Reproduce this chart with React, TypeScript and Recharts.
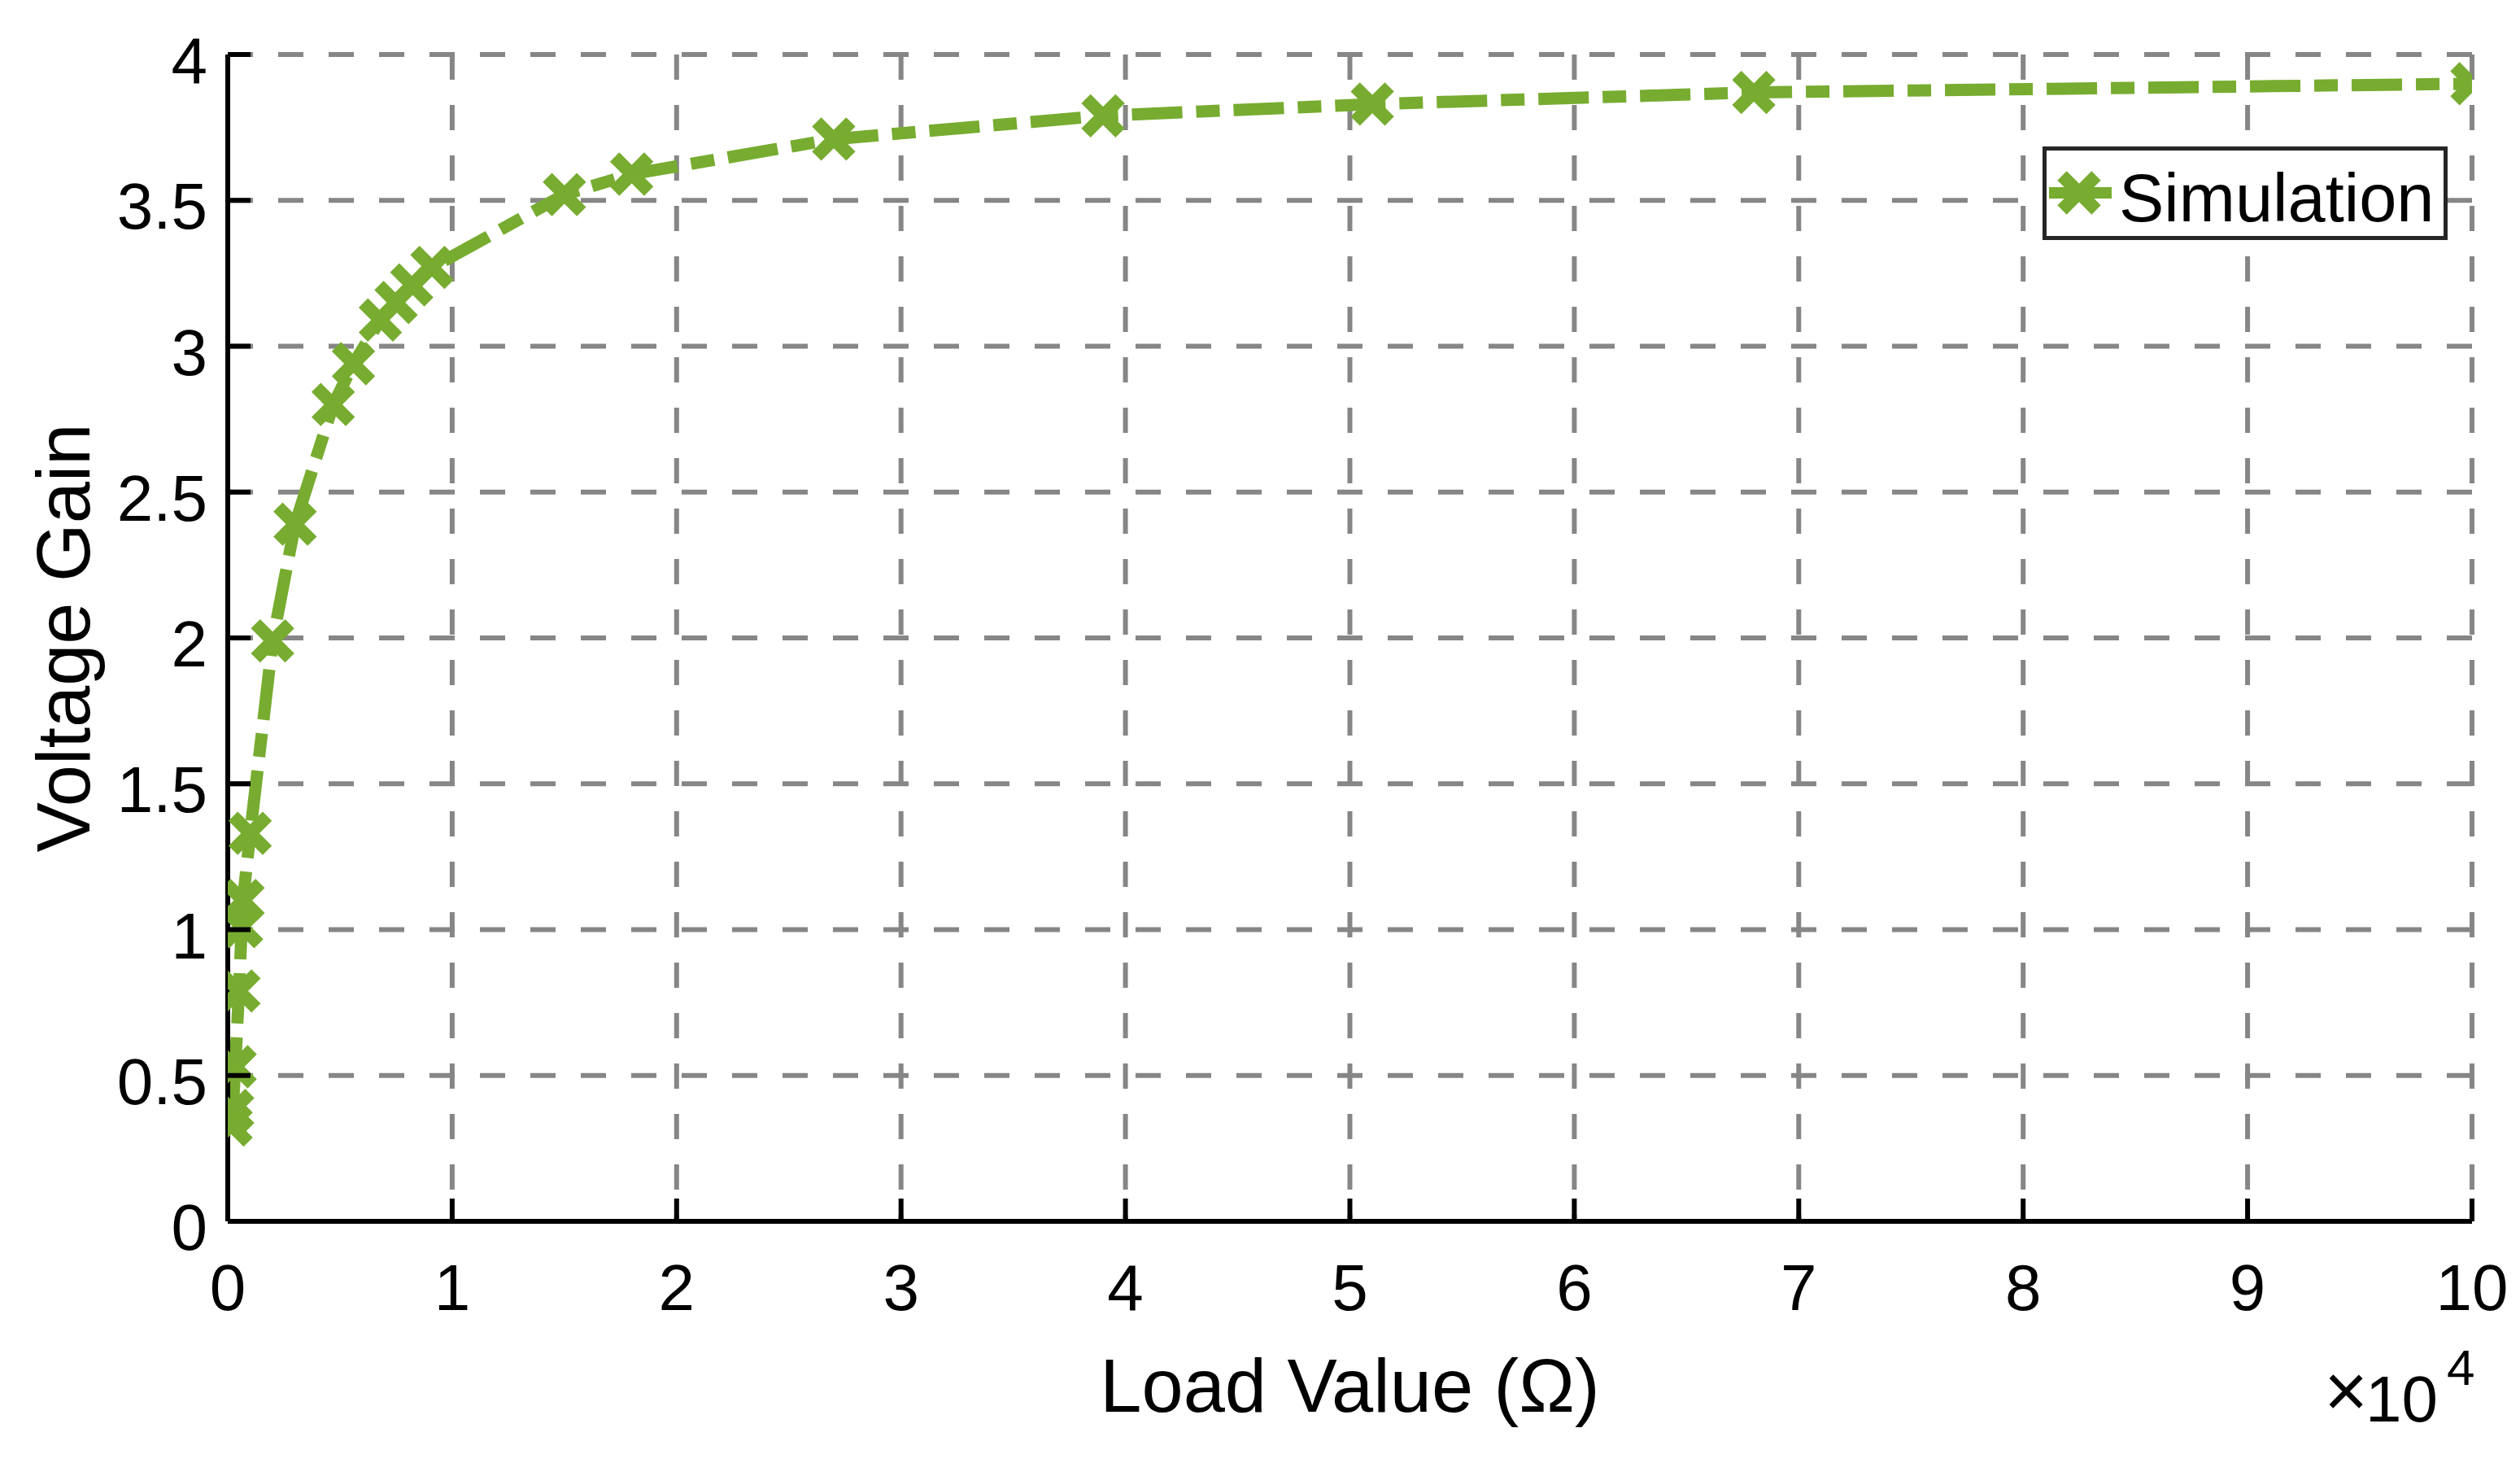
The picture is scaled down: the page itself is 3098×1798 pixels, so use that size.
import React from 'react';
import { LineChart, Line, XAxis, YAxis, CartesianGrid, Legend } from 'recharts';

const loadValues = [150, 220, 330, 500, 620, 680, 1000, 2000, 3000, 4700, 5600, 6800, 7500, 8200, 9100, 15000, 18000, 27000, 39000, 51000, 68000, 100000];
const voltageGain = [0.33, 0.38, 0.53, 0.79, 1.01, 1.10, 1.33, 1.99, 2.39, 2.80, 2.94, 3.09, 3.15, 3.21, 3.27, 3.52, 3.59, 3.71, 3.79, 3.83, 3.87, 3.90];
const xTicks = [0, 10000, 20000, 30000, 40000, 50000, 60000, 70000, 80000, 90000, 100000];
const yTicks = [0, 0.5, 1, 1.5, 2, 2.5, 3, 3.5, 4];
const seriesName = 'Simulation';
const xTitle = 'Load Value (Ω)';
const yTitle = 'Voltage Gain';

const data = loadValues.map((r, i) => ({ r, gain: voltageGain[i] }));

const GREEN = '#77AC30';
const FONT = '"Liberation Sans", Arial, Helvetica, sans-serif';
const TICK_LEN = 28;
const AXIS_W = 6;

const BottomTick = (props: any) => {
  const { x, y, payload } = props;
  return (
    <g>
      <line x1={x} y1={y} x2={x} y2={y - TICK_LEN} stroke="#000" strokeWidth={AXIS_W} />
      <text x={x} y={y + 109} textAnchor="middle" fontSize={80} fontFamily={FONT} fill="#000">
        {payload.value / 10000}
      </text>
    </g>
  );
};

const LeftTick = (props: any) => {
  const { x, y, payload } = props;
  return (
    <g>
      <line x1={x} y1={y} x2={x + TICK_LEN} y2={y} stroke="#000" strokeWidth={AXIS_W} />
      <text x={x - 25} y={y + 35} textAnchor="end" fontSize={80} fontFamily={FONT} fill="#000">
        {String(payload.value)}
      </text>
    </g>
  );
};

const TopTick = (props: any) => {
  const { x, y } = props;
  return <line x1={x} y1={y} x2={x} y2={y + TICK_LEN} stroke="#000" strokeWidth={AXIS_W} />;
};

const RightTick = (props: any) => {
  const { x, y } = props;
  return <line x1={x} y1={y} x2={x - TICK_LEN} y2={y} stroke="#000" strokeWidth={AXIS_W} />;
};

const XMark = (props: any) => {
  const { cx, cy, index } = props;
  if (cx == null || cy == null) return <g key={`m-${index}`} />;
  const h = 21;
  return (
    <g key={`m-${index}`}>
      <line x1={cx - h} y1={cy - h} x2={cx + h} y2={cy + h} stroke={GREEN} strokeWidth={16} />
      <line x1={cx - h} y1={cy + h} x2={cx + h} y2={cy - h} stroke={GREEN} strokeWidth={16} />
    </g>
  );
};

const XLabel = (props: any) => {
  const vb = props.viewBox || {};
  const x = vb.x ?? 280;
  const y = vb.y ?? 1501;
  const w = vb.width ?? 2759;
  return (
    <g>
      <text x={x + w / 2} y={y + 234} textAnchor="middle" fontSize={92} fontFamily={FONT} fill="#000">
        {xTitle}
      </text>
      <text x={x + w - 128} y={y + 240} textAnchor="end" fontSize={92} fontFamily={FONT} fill="#000">
        {'×'}
      </text>
      <text x={x + w - 42} y={y + 246} textAnchor="end" fontSize={80} fontFamily={FONT} fill="#000">
        {'10'}
      </text>
      <text x={x + w - 31} y={y + 201} textAnchor="start" fontSize={62} fontFamily={FONT} fill="#000">
        4
      </text>
    </g>
  );
};

const YLabel = (props: any) => {
  const vb = props.viewBox || {};
  const y = vb.y ?? 67;
  const h = vb.height ?? 1434;
  const cx = 110;
  const cy = y + h / 2;
  return (
    <text
      x={cx}
      y={cy}
      textAnchor="middle"
      fontSize={92}
      fontFamily={FONT}
      fill="#000"
      transform={`rotate(-90, ${cx}, ${cy})`}
    >
      {yTitle}
    </text>
  );
};

const LegendBox = () => (
  <svg width={498} height={115} style={{ display: 'block' }}>
    <rect x={2.5} y={2.5} width={493} height={110} fill="#fff" stroke="#262626" strokeWidth={5} />
    <line x1={8} y1={57} x2={85} y2={57} stroke={GREEN} strokeWidth={14} />
    <line x1={24} y1={36} x2={66} y2={78} stroke={GREEN} strokeWidth={16} />
    <line x1={24} y1={78} x2={66} y2={36} stroke={GREEN} strokeWidth={16} />
    <text x={94} y={92} fontSize={83} fontFamily={FONT} fill="#000">
      {seriesName}
    </text>
  </svg>
);

export default function App() {
  return (
    <div style={{ position: 'absolute', left: 0, top: 0, width: 3098, height: 1798, background: '#fff' }}>
      <LineChart
        width={3098}
        height={1798}
        data={data}
        margin={{ top: 67, right: 59, bottom: 0, left: 0 }}
      >
        <CartesianGrid
          stroke="#868686"
          strokeWidth={6}
          strokeDasharray="31 31"
          horizontalValues={yTicks}
          verticalValues={xTicks}
        />
        <XAxis
          dataKey="r"
          type="number"
          domain={[0, 100000]}
          ticks={xTicks}
          interval={0}
          height={297}
          tickSize={0}
          tickMargin={0}
          tickLine={false}
          axisLine={{ stroke: '#000', strokeWidth: AXIS_W }}
          tick={<BottomTick />}
          label={<XLabel />}
          allowDataOverflow
        />
        <XAxis
          xAxisId="top"
          orientation="top"
          dataKey="r"
          type="number"
          domain={[0, 100000]}
          ticks={xTicks}
          interval={0}
          height={0}
          tickSize={0}
          tickMargin={0}
          tickLine={false}
          axisLine={{ stroke: '#000', strokeWidth: AXIS_W }}
          tick={<TopTick />}
          allowDataOverflow
        />
        <YAxis
          type="number"
          domain={[0, 4]}
          ticks={yTicks}
          interval={0}
          width={280}
          tickSize={0}
          tickMargin={0}
          tickLine={false}
          axisLine={{ stroke: '#000', strokeWidth: AXIS_W }}
          tick={<LeftTick />}
          label={<YLabel />}
          allowDataOverflow
        />
        <YAxis
          yAxisId="right"
          orientation="right"
          type="number"
          domain={[0, 4]}
          ticks={yTicks}
          interval={0}
          width={0}
          tickSize={0}
          tickMargin={0}
          tickLine={false}
          axisLine={{ stroke: '#000', strokeWidth: AXIS_W }}
          tick={<RightTick />}
          allowDataOverflow
        />
        <Legend
          layout="vertical"
          align="center"
          verticalAlign="middle"
          wrapperStyle={{ left: 2511, top: 180, width: 498, height: 115 }}
          content={() => <LegendBox />}
        />
        <Line
          name={seriesName}
          type="linear"
          dataKey="gain"
          stroke={GREEN}
          strokeWidth={15}
          strokeDasharray="62 17 29 17"
          dot={(p: any) => <XMark {...p} />}
          activeDot={false}
          isAnimationActive={false}
        />
      </LineChart>
    </div>
  );
}
